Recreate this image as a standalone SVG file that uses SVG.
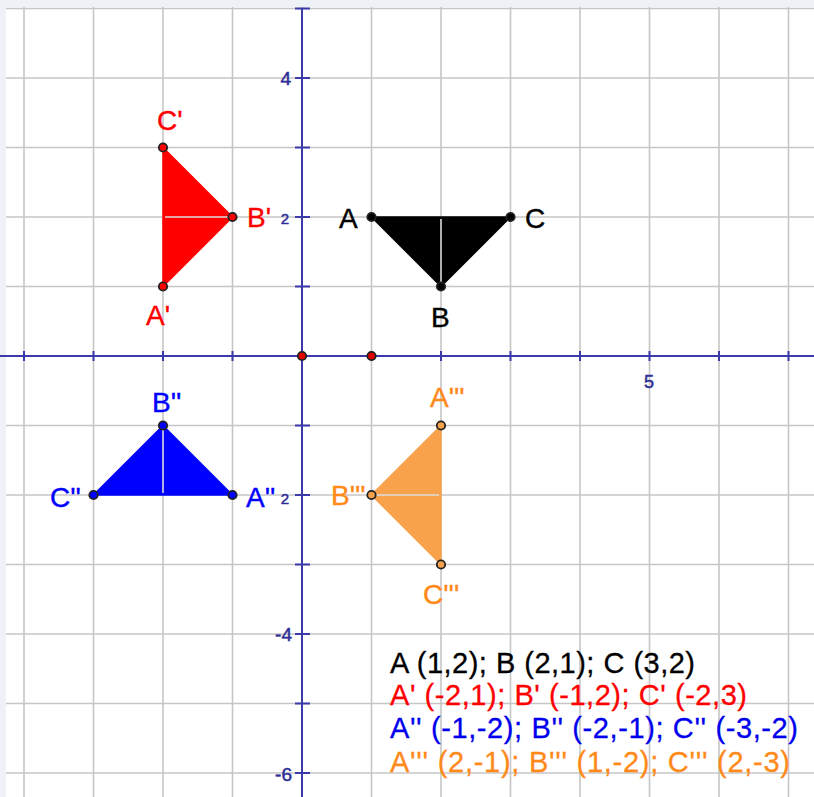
<svg xmlns="http://www.w3.org/2000/svg" width="814" height="797" viewBox="0 0 814 797">
<style>
.grid{stroke:#c6c6c6;stroke-width:1.6;fill:none}
.axis{stroke:#3a3aaa;stroke-width:2;fill:none}
.tick{stroke:#3a3aaa;stroke-width:2}
.tl{font-family:"Liberation Sans",Arial,sans-serif;fill:#2e2e96;stroke:#2e2e96;stroke-width:0.5}
.lab{font-family:"Liberation Sans",Arial,sans-serif;font-size:28px;stroke-width:0.4}
.leg{font-family:"Liberation Sans",Arial,sans-serif;font-size:29px;stroke-width:0.3}
.pt{stroke:#222;stroke-width:1.8}
.inner{stroke:#dcdcdc;stroke-width:1.6}
</style>
<rect x="0" y="0" width="814" height="797" fill="#eef1f5"/>
<rect x="6" y="7" width="808" height="790" fill="#ffffff"/>
<g id="grid" class="grid">
<path d="M24 7V797M93.5 7V797M163 7V797M232.5 7V797M302 7V797M371.5 7V797M441 7V797M510.5 7V797M580 7V797M649.5 7V797M719 7V797M788.5 7V797"/>
<path d="M6 8.5H814M6 78H814M6 147.5H814M6 217H814M6 286.5H814M6 356H814M6 425.5H814M6 495H814M6 564.5H814M6 634H814M6 703.5H814M6 773H814"/>
</g>
<g id="axes">
<path class="axis" d="M0 356H814M302 8V797"/>
<path class="tick" d="M24 351V361M93.5 351V361M163 351V361M232.5 351V361M371.5 351V361M441 351V361M510.5 351V361M580 351V361M649.5 351V361M719 351V361M788.5 351V361"/>
<path class="tick" d="M295 8.5H310M295 78H310M295 147.5H310M295 217H310M295 286.5H310M295 425.5H310M295 495H310M295 564.5H310M295 634H310M295 703.5H310M295 773H310"/>
<text class="tl" x="291" y="85" font-size="19" text-anchor="end">4</text>
<text class="tl" x="289" y="224" font-size="15" text-anchor="end">2</text>
<text class="tl" x="289" y="504" font-size="15" text-anchor="end">2</text>
<text class="tl" x="292" y="641" font-size="19" text-anchor="end">-4</text>
<text class="tl" x="292" y="781" font-size="19" text-anchor="end">-6</text>
<text class="tl" x="649" y="388" font-size="18" text-anchor="middle">5</text>
<circle class="pt" cx="302" cy="356" r="4.2" fill="#e00000"/>
<circle class="pt" cx="371.5" cy="356" r="4.2" fill="#e00000"/>
</g>
<g id="connectors"></g>
<g id="triangle-ABC">
<polygon points="371.5,217 441,286.5 510.5,217" fill="#000000" stroke="#000" stroke-width="1.5"/>
<line class="inner" x1="441" y1="219" x2="441" y2="284"/>
<circle class="pt" cx="371.5" cy="217" r="4.2" fill="#000"/>
<circle class="pt" cx="441" cy="286.5" r="4.2" fill="#000"/>
<circle class="pt" cx="510.5" cy="217" r="4.2" fill="#000"/>
<text class="lab" x="339" y="228" fill="#000" stroke="#000">A</text>
<text class="lab" x="431" y="327" fill="#000" stroke="#000">B</text>
<text class="lab" x="525" y="228" fill="#000" stroke="#000">C</text>
</g>
<g id="triangle-A1B1C1">
<polygon points="163,286.5 232.5,217 163,147.5" fill="#ff0000" stroke="#ff0000" stroke-width="1.5"/>
<line class="inner" x1="165" y1="217" x2="230" y2="217" stroke="#f4d4d4"/>
<circle class="pt" cx="163" cy="286.5" r="4.2" fill="#ff0000"/>
<circle class="pt" cx="232.5" cy="217" r="4.2" fill="#ff0000"/>
<circle class="pt" cx="163" cy="147.5" r="4.2" fill="#ff0000"/>
<text class="lab" x="146" y="325" fill="#ff0000" stroke="#ff0000">A'</text>
<text class="lab" x="247" y="227" fill="#ff0000" stroke="#ff0000">B'</text>
<text class="lab" x="157" y="130" fill="#ff0000" stroke="#ff0000">C'</text>
</g>
<g id="triangle-A2B2C2">
<polygon points="232.5,495 163,425.5 93.5,495" fill="#0000ff" stroke="#0000ff" stroke-width="1.5"/>
<line class="inner" x1="163" y1="428" x2="163" y2="493"/>
<circle class="pt" cx="232.5" cy="495" r="4.2" fill="#0000ff"/>
<circle class="pt" cx="163" cy="425.5" r="4.2" fill="#0000ff"/>
<circle class="pt" cx="93.5" cy="495" r="4.2" fill="#0000ff"/>
<text class="lab" x="246" y="507" fill="#0000ff" stroke="#0000ff">A''</text>
<text class="lab" x="152" y="412" fill="#0000ff" stroke="#0000ff">B''</text>
<text class="lab" x="50" y="507" fill="#0000ff" stroke="#0000ff">C''</text>
</g>
<g id="triangle-A3B3C3">
<polygon points="441,425.5 371.5,495 441,564.5" fill="#f8a24c" stroke="#f8a24c" stroke-width="1.5"/>
<line class="inner" x1="374" y1="495" x2="439" y2="495" stroke="#c4bcb4"/>
<circle class="pt" cx="441" cy="425.5" r="4.2" fill="#f8a24c"/>
<circle class="pt" cx="371.5" cy="495" r="4.2" fill="#f8a24c"/>
<circle class="pt" cx="441" cy="564.5" r="4.2" fill="#f8a24c"/>
<text class="lab" x="430" y="407" fill="#ff8a1a" stroke="#ff8a1a">A'''</text>
<text class="lab" x="331" y="505" fill="#ff8a1a" stroke="#ff8a1a">B'''</text>
<text class="lab" x="423" y="604" fill="#ff8a1a" stroke="#ff8a1a">C'''</text>
</g>
<g id="legend">
<text class="leg" x="390" y="673" fill="#000" stroke="#000" textLength="305" lengthAdjust="spacing">A (1,2); B (2,1); C (3,2)</text>
<text class="leg" x="390" y="705" fill="#ff0000" stroke="#ff0000" textLength="357" lengthAdjust="spacing">A' (-2,1); B' (-1,2); C' (-2,3)</text>
<text class="leg" x="390" y="738" fill="#0000ee" stroke="#0000ee" textLength="408" lengthAdjust="spacing">A'' (-1,-2); B'' (-2,-1); C'' (-3,-2)</text>
<text class="leg" x="390" y="772" fill="#ff8a1a" stroke="#ff8a1a" textLength="400" lengthAdjust="spacing">A''' (2,-1); B''' (1,-2); C''' (2,-3)</text>
</g>
</svg>
